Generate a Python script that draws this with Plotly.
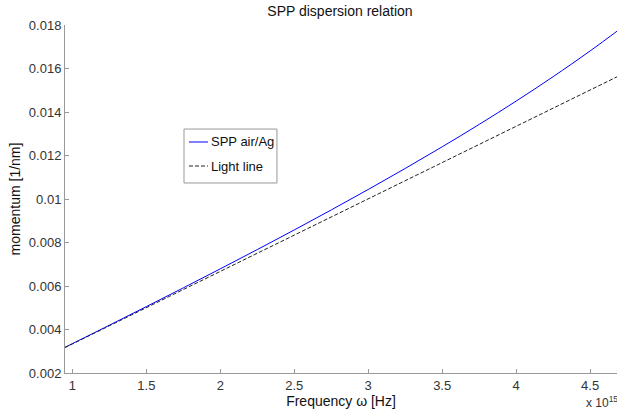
import plotly.graph_objects as go

# Frequency in units of 1e15 Hz
freq = [0.95, 1.0, 1.25, 1.5, 1.75, 2.0, 2.25, 2.5, 2.75, 3.0, 3.25, 3.5, 3.75, 4.0, 4.25, 4.5, 4.7]
spp = [0.003181, 0.003350, 0.004197, 0.005052, 0.005915, 0.006789, 0.007675, 0.008577,
       0.009497, 0.010438, 0.011404, 0.012399, 0.013429, 0.014500, 0.015623, 0.016806, 0.017806]
light = [0.003169, 0.003336, 0.004170, 0.005003, 0.005837, 0.006671, 0.007505, 0.008339,
         0.009173, 0.010007, 0.010841, 0.011675, 0.012509, 0.013342, 0.014176, 0.015010, 0.015677]
series_names = ["SPP air/Ag", "Light line"]

x_ticks = [1, 1.5, 2, 2.5, 3, 3.5, 4, 4.5]
x_ticklabels = ["1", "1.5", "2", "2.5", "3", "3.5", "4", "4.5"]
y_ticks = [0.002, 0.004, 0.006, 0.008, 0.01, 0.012, 0.014, 0.016, 0.018]
y_ticklabels = ["0.002", "0.004", "0.006", "0.008", "0.01", "0.012", "0.014", "0.016", "0.018"]

font = "Liberation Sans, Arial, sans-serif"
blue = "#0000ff"
dash = "4px,2px"

fig = go.Figure()
fig.add_trace(go.Scatter(x=freq, y=spp, mode="lines", name=series_names[0],
                         line=dict(color=blue, width=1, shape="spline")))
fig.add_trace(go.Scatter(x=freq, y=light, mode="lines", name=series_names[1],
                         line=dict(color="#222", width=1, dash=dash)))

axis_common = dict(showgrid=False, zeroline=False, showline=True, linecolor="#999",
                   linewidth=1, ticks="inside", ticklen=4, tickcolor="#999",
                   tickfont=dict(size=13, color="#333"), automargin=False)

fig.update_layout(
    width=617, height=419,
    margin=dict(l=65, r=0, t=25, b=46, autoexpand=False),
    paper_bgcolor="white", plot_bgcolor="white",
    font=dict(family=font, size=13, color="#222"),
    title=dict(text="SPP dispersion relation", x=0.551, xanchor="center",
               y=0.973, yanchor="middle", font=dict(size=14, color="#111")),
    showlegend=False,
    xaxis=dict(range=[0.95, 4.682], tickvals=x_ticks, ticktext=x_ticklabels,
               title=dict(text="Frequency ω [Hz]", font=dict(size=14, color="#111"), standoff=2),
               **axis_common),
    yaxis=dict(range=[0.002, 0.018], tickvals=y_ticks, ticktext=y_ticklabels,
               title=dict(text="momentum [1/nm]", font=dict(size=14, color="#111"), standoff=4),
               **axis_common),
)

# exponent label
fig.add_annotation(text="x 10<sup>15</sup>", xref="paper", yref="paper",
                   x=0.94, y=-0.083, xanchor="left", yanchor="middle",
                   showarrow=False, font=dict(size=12, color="#333"))

# legend box (MATLAB style)
fig.add_shape(type="rect", xref="paper", yref="paper", x0=0.2156, x1=0.384, y0=0.546, y1=0.701,
              line=dict(color="#999", width=1), fillcolor="white", layer="above")
leg_y = [0.6638, 0.5948]
leg_col = [blue, "#222"]
leg_dash = ["solid", dash]
for i in range(2):
    fig.add_shape(type="line", xref="paper", yref="paper", x0=0.2246, x1=0.2591,
                  y0=leg_y[i], y1=leg_y[i], line=dict(color=leg_col[i], width=1, dash=leg_dash[i]),
                  layer="above")
    fig.add_annotation(text=series_names[i], xref="paper", yref="paper", x=0.2609, y=leg_y[i],
                       xanchor="left", yanchor="middle", showarrow=False,
                       font=dict(size=13, color="#111"))

fig.write_html("out.html", config={"displayModeBar": False},
               post_script="document.body.style.margin='0';document.body.style.overflow='hidden';")
